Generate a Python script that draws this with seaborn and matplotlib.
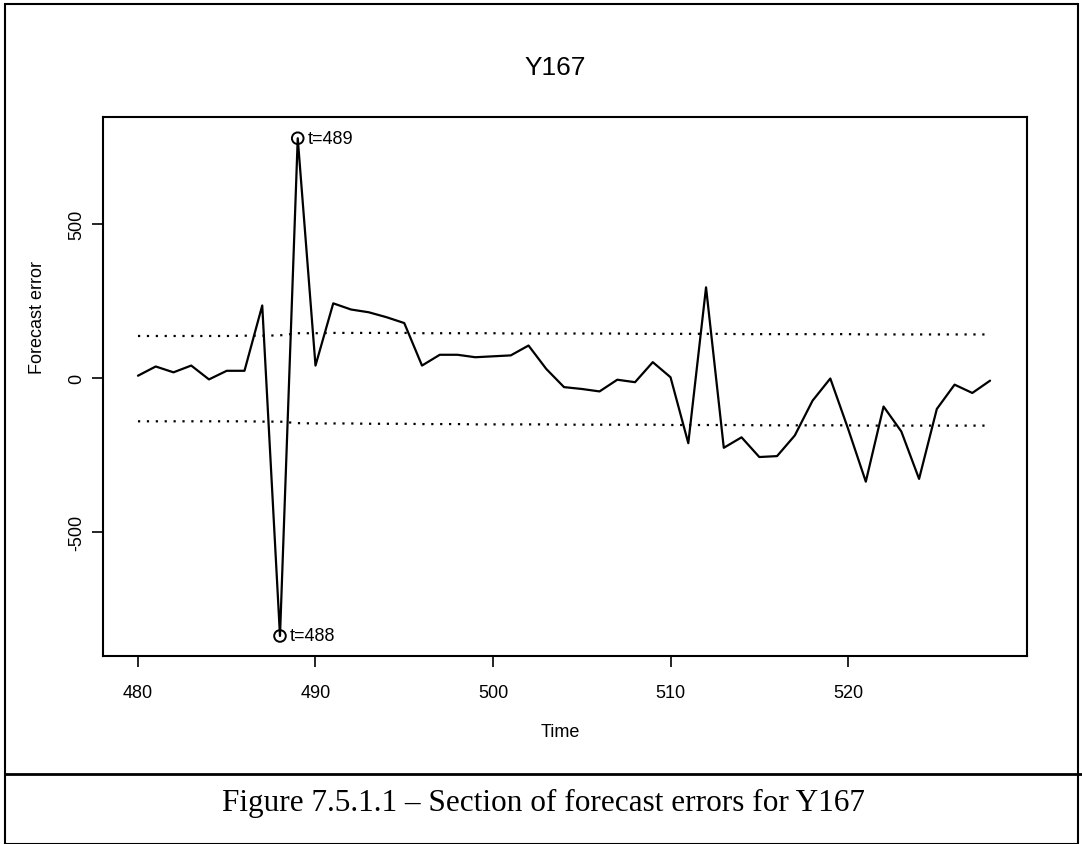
import numpy as np
import pandas as pd
import seaborn as sns
import matplotlib
matplotlib.use("Agg")
import matplotlib.pyplot as plt
from matplotlib.patches import Rectangle
from matplotlib.lines import Line2D

# ---- data ----
time = list(range(480, 529))
errors = [7, 37, 18, 40, -5, 23, 23, 235, -838, 778,
          40, 242, 222, 213, 197, 178, 40, 75, 75, 67,
          70, 73, 105, 29, -30, -36, -44, -6, -14, 51,
          2, -212, 294, -227, -193, -257, -254, -187, -74, -2,
          -165, -337, -93, -174, -328, -101, -22, -49, -9]
upper = [136, 136, 136, 136, 136, 136, 137, 137, 138, 145,
         145, 146, 146, 146, 146, 146, 145, 145, 145, 145,
         145, 144, 144, 144, 144, 144, 144, 144, 143, 143,
         143, 143, 143, 143, 142, 142, 142, 142, 142, 142,
         142, 141, 141, 141, 141, 141, 141, 141, 141]
lower = [-141, -141, -141, -141, -141, -141, -141, -142, -142, -147,
         -148, -148, -148, -149, -149, -149, -150, -150, -150, -151,
         -151, -151, -151, -151, -152, -152, -152, -152, -152, -152,
         -153, -153, -153, -153, -153, -154, -154, -154, -154, -154,
         -154, -155, -155, -155, -155, -155, -155, -155, -155]
outliers_t = [488, 489]
outliers_v = [-838, 778]
outlier_labels = ["t=488", "t=489"]
xticks = [480, 490, 500, 510, 520]
yticks = [-500, 0, 500]
ytick_labels = ["-500", "0", "500"]

df = pd.DataFrame({"Time": time, "err": errors, "up": upper, "lo": lower})

sns.set_style("white")
plt.rcParams["font.family"] = ["Liberation Sans", "DejaVu Sans"]
plt.rcParams["text.color"] = "black"
plt.rcParams["xtick.color"] = "black"
plt.rcParams["ytick.color"] = "black"
plt.rcParams["axes.labelcolor"] = "black"

fig = plt.figure(figsize=(10.82, 8.45), dpi=100)
ax = fig.add_axes([103/1082, 1-657/845, (1027-103)/1082, (657-118)/845])

sns.lineplot(data=df, x="Time", y="err", ax=ax, color="black", lw=1.6)
sns.lineplot(data=df, x="Time", y="up", ax=ax, color="black", lw=1.6,
             linestyle=(0, (1, 3)))
sns.lineplot(data=df, x="Time", y="lo", ax=ax, color="black", lw=1.6,
             linestyle=(0, (1, 3)))
ax.scatter(outliers_t, outliers_v, s=70, facecolors="none",
           edgecolors="black", linewidths=1.4, zorder=5)
for tt, vv, lab in zip(outliers_t, outliers_v, outlier_labels):
    ax.annotate(lab, (tt, vv), xytext=(7, 0), textcoords="offset points",
                ha="left", va="center", fontsize=13, color="black")

ax.set_xlim(478.03, 530.08)
ax.set_ylim(-903, 847)
ax.set_xticks(xticks)
ax.set_xticklabels([str(v) for v in xticks], fontsize=13)
ax.set_yticks(yticks)
ax.set_yticklabels(ytick_labels, fontsize=13, rotation=90, va="center")
ax.tick_params(axis="both", direction="out", length=8, width=1.2,
               color="black", labelcolor="black", left=True, bottom=True)
ax.tick_params(axis="x", pad=12)
ax.tick_params(axis="y", pad=5)
ax.set_xlabel("")
ax.set_ylabel("")
for s in ax.spines.values():
    s.set_visible(True)
    s.set_color("black")
    s.set_linewidth(1.5)

fig.text(555/1082, 1-68/845, "Y167", ha="center", va="center", fontsize=19,
         color="black")
fig.text(560/1082, 1-733/845, "Time", ha="center", va="center", fontsize=13,
         color="black")
fig.text(37/1082, 1-317/845, "Forecast error", ha="center", va="center",
         rotation=90, fontsize=13, color="black")

# outer frame and caption box
fig.add_artist(Rectangle((5/1082, 0), (1078-5)/1082, 1-5/845,
                         transform=fig.transFigure, fill=False,
                         edgecolor="black", lw=1.5))
fig.add_artist(Line2D([5/1082, 1.0], [1-775/845, 1-775/845],
                      transform=fig.transFigure, color="black", lw=2))
fig.text(543/1082, 1-803/845,
         "Figure 7.5.1.1 \u2013 Section of forecast errors for Y167",
         ha="center", va="center", fontsize=22.5, color="black",
         family=["Liberation Serif", "DejaVu Serif"])

fig.savefig("out.png", dpi=100, facecolor="white")
